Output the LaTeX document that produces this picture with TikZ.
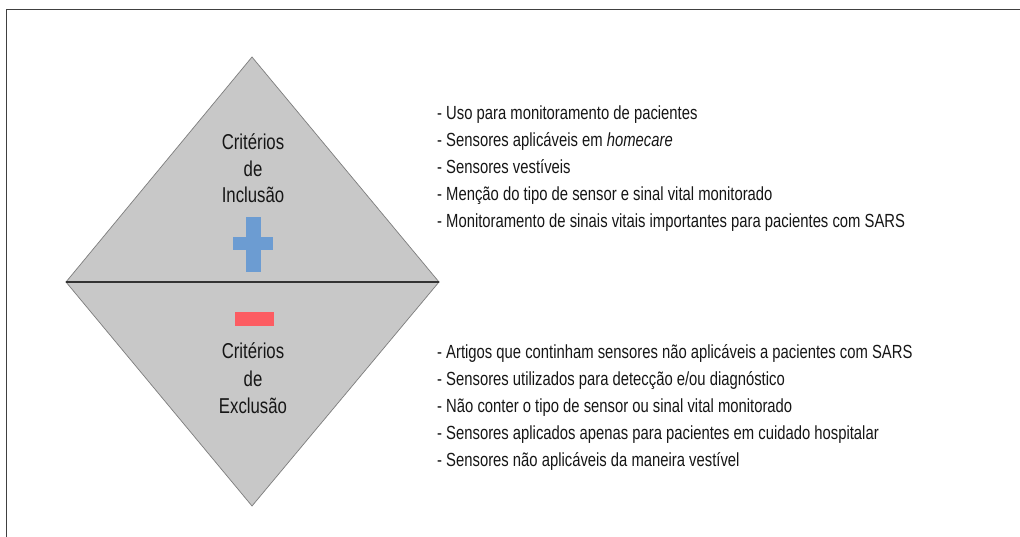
\documentclass[tikz,border=0pt]{standalone}
\usepackage{fontspec}
\setmainfont{Liberation Sans}[FakeStretch=0.78]
\definecolor{dgray}{RGB}{200,200,200}
\definecolor{edgegray}{RGB}{125,125,125}
\definecolor{plusblue}{RGB}{108,156,210}
\definecolor{minusred}{RGB}{252,92,98}
\definecolor{txt}{RGB}{22,22,22}
\tikzset{
  listline/.style={anchor=base west, inner sep=0pt, text=txt, font=\fontsize{19}{23}\selectfont},
  dialine/.style={anchor=base, inner sep=0pt, text=txt, font=\fontsize{21.5}{26}\selectfont},
  tri/.style={fill=dgray, draw=edgegray, line width=0.7pt, line join=miter},
}
\begin{document}
\begin{tikzpicture}[x=1pt,y=-1pt]
\useasboundingbox (0,0) rectangle (1020,537);
\fill[white] (0,0) rectangle (1020,537);
% frame
\coordinate (fl) at (6,537);
\coordinate (fc) at (6,10);
\coordinate (fr) at (1020,10);
\draw[line width=1pt, black!75] (fl) -- (fc) -- (fr);
% diamond
\coordinate (top) at (252,57);
\coordinate (lft) at (66,282);
\coordinate (rgt) at (439,282);
\coordinate (bot) at (252,506);
\draw[tri] (lft) -- (top) -- (rgt) -- cycle;
\draw[tri] (lft) -- (bot) -- (rgt) -- cycle;
\draw[line width=1.2pt, black!80] (lft) -- (rgt);
% plus
\fill[plusblue] (245.5,217) rectangle (260.5,272);
\fill[plusblue] (233,237) rectangle (273,250);
% minus
\fill[minusred] (235,312) rectangle (274,326);
% diamond texts
\node[dialine] (i1) at (253,150) {Critérios};
\node[dialine] (i2) at (253,177) {de};
\node[dialine] (i3) at (253,203) {Inclusão};
\node[dialine] (e1) at (253,359) {Critérios};
\node[dialine] (e2) at (253,386) {de};
\node[dialine] (e3) at (253,413) {Exclusão};
% inclusion list
\node[listline] (a1) at (437,120) {- Uso para monitoramento de pacientes};
\node[listline] (a2) at (437,147) {- Sensores aplicáveis em \textit{homecare}};
\node[listline] (a3) at (437,174) {- Sensores vestíveis};
\node[listline] (a4) at (437,201) {- Menção do tipo de sensor e sinal vital monitorado};
\node[listline] (a5) at (437,228) {- Monitoramento de sinais vitais importantes para pacientes com SARS};
% exclusion list
\node[listline] (b1) at (437,358) {- Artigos que continham sensores não aplicáveis a pacientes com SARS};
\node[listline] (b2) at (437,385) {- Sensores utilizados para detecção e/ou diagnóstico};
\node[listline] (b3) at (437,412) {- Não conter o tipo de sensor ou sinal vital monitorado};
\node[listline] (b4) at (437,439) {- Sensores aplicados apenas para pacientes em cuidado hospitalar};
\node[listline] (b5) at (437,466) {- Sensores não aplicáveis da maneira vestível};
\end{tikzpicture}
\end{document}
